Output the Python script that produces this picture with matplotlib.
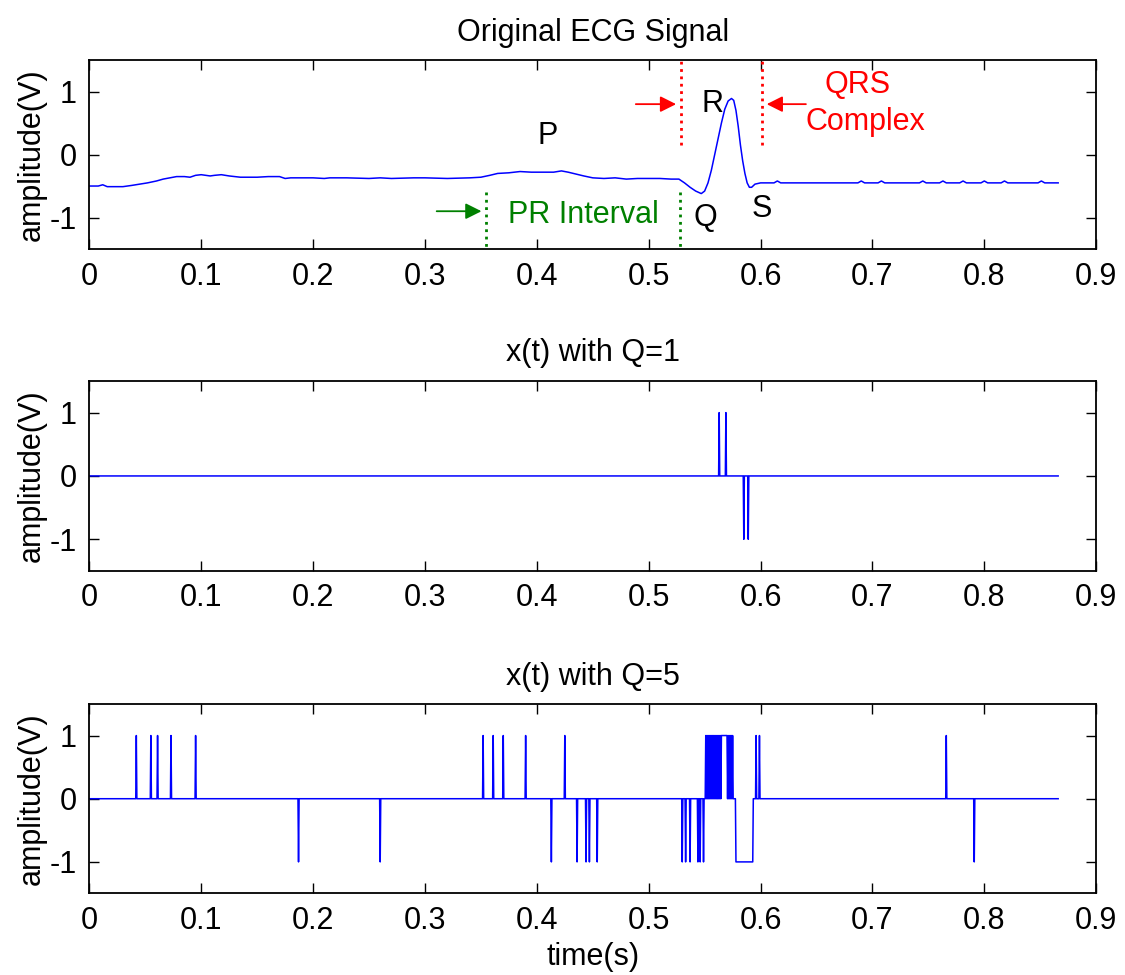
import matplotlib
matplotlib.use('Agg')
import matplotlib.pyplot as plt
import numpy as np

plt.rcParams['font.family'] = ['Liberation Sans', 'DejaVu Sans']
plt.rcParams['font.size'] = 22
plt.rcParams['axes.unicode_minus'] = False

# original ECG trace (time in s, amplitude in V)
ecg_t = [0.000, 0.008, 0.012, 0.016, 0.030, 0.038, 0.045, 0.052, 0.060, 0.066,
         0.072, 0.078, 0.085, 0.090, 0.095, 0.100, 0.108, 0.112, 0.118, 0.125,
         0.135, 0.150, 0.160, 0.170, 0.175, 0.180, 0.200, 0.210, 0.215, 0.230,
         0.250, 0.260, 0.270, 0.290, 0.300, 0.320, 0.340, 0.350, 0.358, 0.365,
         0.375, 0.385, 0.395, 0.405, 0.415, 0.422, 0.428, 0.435, 0.442, 0.450,
         0.460, 0.470, 0.480, 0.490, 0.500, 0.510, 0.520, 0.527, 0.532, 0.537,
         0.542, 0.547, 0.550, 0.553, 0.556, 0.559, 0.562, 0.565, 0.568, 0.571,
         0.574, 0.576, 0.578, 0.580, 0.582, 0.584, 0.586, 0.588, 0.590, 0.592,
         0.595, 0.600, 0.612, 0.615, 0.618, 0.687, 0.690, 0.693, 0.705, 0.708,
         0.711, 0.742, 0.745, 0.748, 0.760, 0.763, 0.766, 0.778, 0.781, 0.784,
         0.797, 0.800, 0.803, 0.815, 0.818, 0.821, 0.848, 0.851, 0.854, 0.866]
ecg_v = [-0.50, -0.50, -0.48, -0.51, -0.51, -0.49, -0.47, -0.45, -0.42, -0.39,
         -0.37, -0.35, -0.35, -0.36, -0.33, -0.32, -0.34, -0.33, -0.32, -0.34,
         -0.36, -0.36, -0.35, -0.35, -0.38, -0.37, -0.37, -0.38, -0.37, -0.37,
         -0.38, -0.37, -0.38, -0.37, -0.37, -0.38, -0.37, -0.36, -0.33, -0.30,
         -0.29, -0.27, -0.28, -0.28, -0.28, -0.26, -0.28, -0.31, -0.34, -0.37,
         -0.38, -0.37, -0.39, -0.38, -0.38, -0.38, -0.39, -0.39, -0.45, -0.52,
         -0.58, -0.62, -0.58, -0.45, -0.25, 0.00, 0.25, 0.50, 0.72, 0.85,
         0.89, 0.86, 0.70, 0.45, 0.15, -0.10, -0.30, -0.45, -0.52, -0.52,
         -0.47, -0.45, -0.45, -0.42, -0.45, -0.45, -0.42, -0.45, -0.45, -0.42,
         -0.45, -0.45, -0.42, -0.45, -0.45, -0.42, -0.45, -0.45, -0.42, -0.45,
         -0.45, -0.42, -0.45, -0.45, -0.42, -0.45, -0.45, -0.42, -0.45, -0.45]

# spike times of the quantised signals
q1_up = [0.563, 0.569]
q1_down = [0.585, 0.589]

q5_up = [0.042, 0.055, 0.061, 0.073, 0.095, 0.352, 0.361, 0.370, 0.390, 0.425,
         0.551, 0.552, 0.553, 0.554, 0.555, 0.556, 0.557, 0.558, 0.559,
         0.560, 0.561, 0.562, 0.563, 0.564, 0.565,
         0.570, 0.571, 0.572, 0.573, 0.574, 0.575, 0.596, 0.599, 0.766]
q5_down = [0.187, 0.260, 0.413, 0.436, 0.444, 0.447, 0.454,
           0.530, 0.533, 0.537, 0.544, 0.546, 0.549, 0.791]
q5_hold = [(0.5655, 0.5695, 1), (0.578, 0.593, -1)]

dt = 0.0005
t_end = 0.866


def spike_train(up, down, hold=()):
    t = np.arange(0, t_end + dt / 2, dt)
    x = np.zeros_like(t)
    x[np.round(np.array(up) / dt).astype(int)] = 1
    x[np.round(np.array(down) / dt).astype(int)] = -1
    for a, b, v in hold:
        x[(t >= a - dt / 2) & (t <= b + dt / 2)] = v
    return t, x


def style_axes(ax, title):
    ax.set_xlim(0, 0.9)
    ax.set_ylim(-1.5, 1.5)
    ax.set_xticks(np.arange(0, 0.91, 0.1))
    ax.set_xticklabels(['0', '0.1', '0.2', '0.3', '0.4', '0.5', '0.6', '0.7', '0.8', '0.9'])
    ax.set_yticks([-1, 0, 1])
    ax.tick_params(direction='in', top=True, right=True, length=7, width=1)
    ax.tick_params(axis='x', pad=9)
    ax.tick_params(axis='y', pad=9)
    for s in ax.spines.values():
        s.set_linewidth(1.3)
    ax.set_ylabel('amplitude(V)', labelpad=2)
    ax.set_title(title, pad=14, fontsize=22)


fig = plt.figure(figsize=(11.25, 9.75), dpi=100)
ax1 = fig.add_axes([0.0794, 0.7446, 0.8950, 0.1938])
ax2 = fig.add_axes([0.0794, 0.4144, 0.8950, 0.1949])
ax3 = fig.add_axes([0.0794, 0.0836, 0.8950, 0.1944])

ax1.plot(ecg_t, ecg_v, color='blue', lw=1.1)
style_axes(ax1, 'Original ECG Signal')

# annotations on the ECG
ax1.plot([0.529, 0.529], [0.15, 1.5], ':', color='red', lw=2)
ax1.plot([0.601, 0.601], [0.15, 1.5], ':', color='red', lw=2)
ax1.plot([0.355, 0.355], [-0.6, -1.5], ':', color='green', lw=2)
ax1.plot([0.528, 0.528], [-0.6, -1.5], ':', color='green', lw=2)
ax1.annotate('', xy=(0.527, 0.8), xytext=(0.486, 0.8),
             arrowprops=dict(arrowstyle='-|>', color='red', lw=1.3, mutation_scale=24))
ax1.annotate('', xy=(0.603, 0.8), xytext=(0.643, 0.8),
             arrowprops=dict(arrowstyle='-|>', color='red', lw=1.3, mutation_scale=24))
ax1.annotate('', xy=(0.353, -0.9), xytext=(0.308, -0.9),
             arrowprops=dict(arrowstyle='-|>', color='green', lw=1.3, mutation_scale=24))
ax1.text(0.41, 0.3, 'P', ha='center', va='center')
ax1.text(0.557, 0.8, 'R', ha='center', va='center')
ax1.text(0.551, -1.0, 'Q', ha='center', va='center')
ax1.text(0.601, -0.87, 'S', ha='center', va='center')
ax1.text(0.687, 1.10, 'QRS', ha='center', va='center', color='red')
ax1.text(0.694, 0.52, 'Complex', ha='center', va='center', color='red')
ax1.text(0.442, -0.96, 'PR Interval', ha='center', va='center', color='green')

t1, x1 = spike_train(q1_up, q1_down)
ax2.plot(t1, x1, color='blue', lw=1.1)
style_axes(ax2, 'x(t) with Q=1')

t5, x5 = spike_train(q5_up, q5_down, q5_hold)
ax3.plot(t5, x5, color='blue', lw=1.1)
style_axes(ax3, 'x(t) with Q=5')
ax3.set_xlabel('time(s)', labelpad=4)

fig.savefig('out.png', dpi=100)
